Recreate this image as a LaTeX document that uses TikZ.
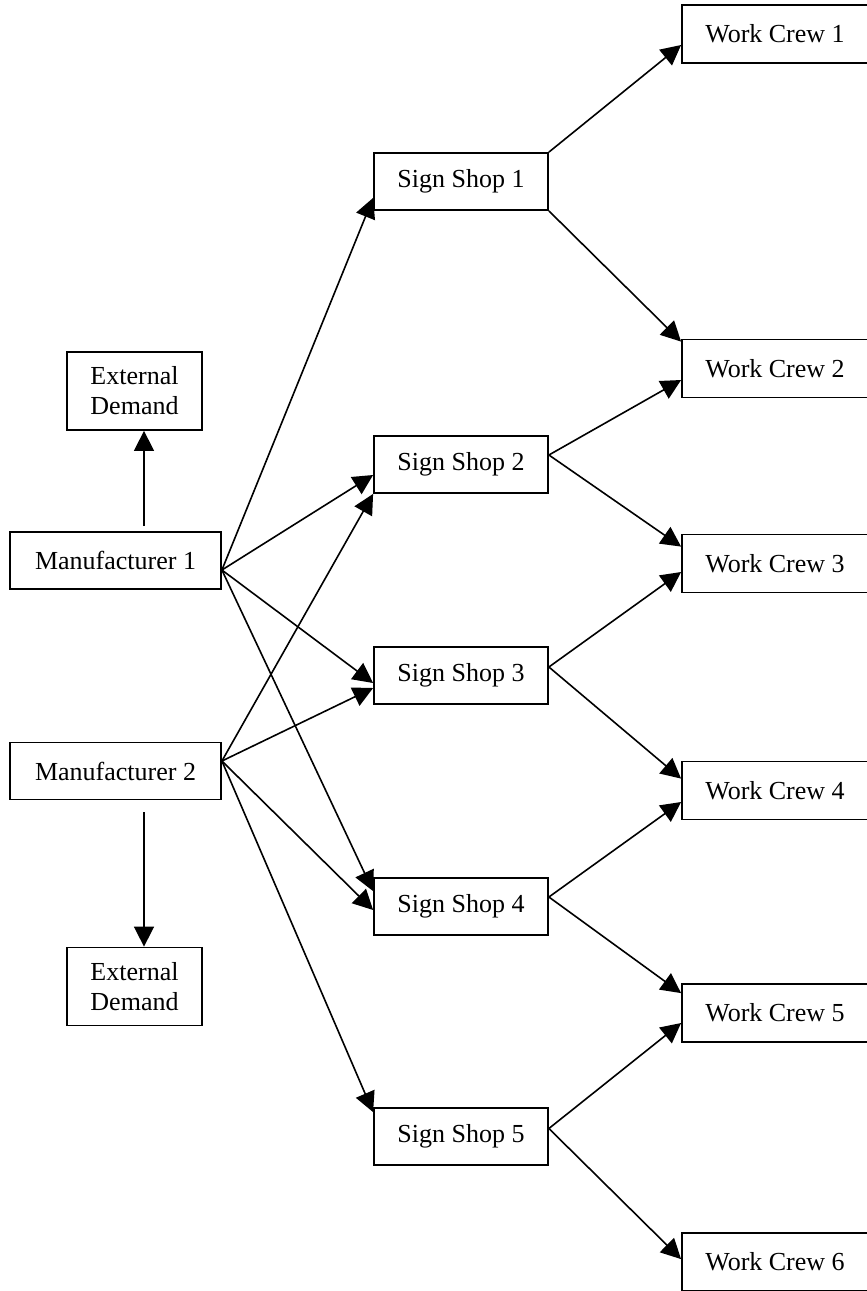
\documentclass[tikz,border=0pt]{standalone}
\usepackage{fontspec}
\setmainfont{Liberation Serif}
\usetikzlibrary{arrows.meta,calc}
\begin{document}
\begin{tikzpicture}[x=0.5pt,y=-0.5pt,
  box/.style={draw,line width=0.9pt,inner sep=0pt,font=\fontsize{13}{15}\selectfont,align=center},
  ssbox/.style={box,minimum width=87pt,minimum height=28.5pt},
  mbox/.style={box,minimum width=105.5pt,minimum height=28.5pt},
  edbox/.style={box,minimum width=67.5pt,minimum height=39pt},
  wcbox/.style={box,minimum width=93pt,minimum height=29pt},
  arr/.style={line width=0.8pt,-{Triangle[length=10pt,width=10pt]}}]
\useasboundingbox (0,0) rectangle (867,1291);
\clip (0,0) rectangle (867,1291);
% nodes
\node[mbox] (m1) at (115.5,560.5) {Manufacturer 1};
\node[mbox] (m2) at (115.5,771) {Manufacturer 2};
\node[edbox] (ed1) at (134.5,391) {External\\Demand};
\node[edbox] (ed2) at (134.5,986.5) {External\\Demand};
\node[ssbox] (ss1) at (461,181.5) {Sign Shop 1};
\node[ssbox] (ss2) at (461,464.5) {Sign Shop 2};
\node[ssbox] (ss3) at (461,675.5) {Sign Shop 3};
\node[ssbox] (ss4) at (461,906.5) {Sign Shop 4};
\node[ssbox] (ss5) at (461,1136.5) {Sign Shop 5};
\node[wcbox] (wc1) at (775,34) {Work Crew 1};
\node[wcbox] (wc2) at (775,368.5) {Work Crew 2};
\node[wcbox] (wc3) at (775,563.5) {Work Crew 3};
\node[wcbox] (wc4) at (775,790.5) {Work Crew 4};
\node[wcbox] (wc5) at (775,1013) {Work Crew 5};
\node[wcbox] (wc6) at (775,1262) {Work Crew 6};
% origins
\coordinate (o1) at ($(m1.east)+(0,9.5)$);
\coordinate (o2) at ($(m2.east)+(0,-10)$);
\coordinate (s2) at ($(ss2.east)+(0,-9.5)$);
\coordinate (s3) at ($(ss3.east)+(0,-8.5)$);
\coordinate (s4) at ($(ss4.east)+(0,-9.5)$);
\coordinate (s5) at ($(ss5.east)+(0,-8)$);
% external demand
\draw[arr] ($(m1.north)+(28.5,-5)$) -- ($(ed1.south)+(9.5,0)$);
\draw[arr] ($(m2.south)+(28.5,12)$) -- ($(ed2.north)+(9.5,0)$);
% manufacturers to sign shops
\draw[arr] (o1) -- ($(ss1.south west)+(0,-13)$);
\draw[arr] (o1) -- ($(ss2.west)+(0,10.5)$);
\draw[arr] (o1) -- ($(ss3.west)+(0,7.5)$);
\draw[arr] (o1) -- ($(ss4.north west)+(0,14)$);
\draw[arr] (o2) -- (ss2.south west);
\draw[arr] (o2) -- ($(ss3.west)+(0,12.5)$);
\draw[arr] (o2) -- ($(ss4.west)+(0,3.5)$);
\draw[arr] (o2) -- ($(ss5.north west)+(0,5)$);
% sign shops to work crews
\draw[arr] (ss1.north east) -- ($(wc1.west)+(0,11)$);
\draw[arr] (ss1.south east) -- ($(wc2.north west)+(0,3)$);
\draw[arr] (s2) -- ($(wc2.west)+(0,11.5)$);
\draw[arr] (s2) -- ($(wc3.north west)+(0,13)$);
\draw[arr] (s3) -- ($(wc3.west)+(0,8.5)$);
\draw[arr] (s3) -- ($(wc4.north west)+(0,18)$);
\draw[arr] (s4) -- ($(wc4.west)+(0,11.5)$);
\draw[arr] (s4) -- ($(wc5.north west)+(0,10)$);
\draw[arr] (s5) -- ($(wc5.west)+(0,10)$);
\draw[arr] (s5) -- ($(wc6.north west)+(0,27)$);
\end{tikzpicture}
\end{document}
